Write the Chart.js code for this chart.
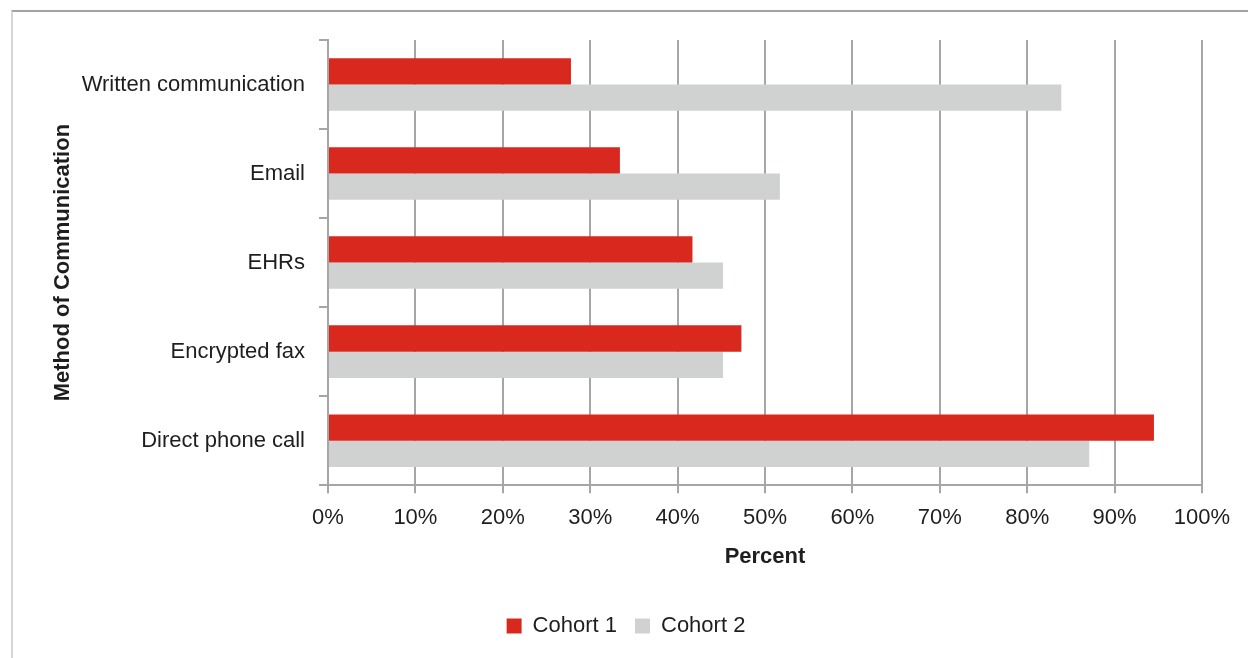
<!DOCTYPE html>
<html>
<head>
<meta charset="utf-8">
<script src="https://cdn.jsdelivr.net/npm/chart.js@4.4.1/dist/chart.umd.min.js"></script>
<style>
  html, body { margin: 0; padding: 0; background: #fff; }
  #wrap { position: relative; width: 1248px; height: 658px; overflow: hidden; }
  #frame {
    position: absolute; left: 11px; top: 10px; width: 1300px; height: 700px;
    border-top: 2px solid #a3a3a3; border-left: 2px solid #d6d6d6;
  }
  canvas { position: absolute; left: 0; top: 0; }
</style>
</head>
<body>
<div id="wrap">
  <div id="frame"></div>
  <canvas id="myChart" width="1248" height="658"></canvas>
</div>
<script>
const methods = ['Written communication', 'Email', 'EHRs', 'Encrypted fax', 'Direct phone call'];
const cohort1 = [27.8, 33.4, 41.7, 47.3, 94.5];
const cohort2 = [83.9, 51.7, 45.2, 45.2, 87.1];
const seriesNames = ['Cohort 1', 'Cohort 2'];
const seriesColors = ['#d9291e', '#d0d2d1'];

const font = "'Liberation Sans', Arial, sans-serif";
const gridColor = '#a6a6a6';
const textColor = '#1e1e1e';

Chart.defaults.font.family = font;
Chart.defaults.color = textColor;

const ctx = document.getElementById('myChart').getContext('2d');
new Chart(ctx, {
    type: 'bar',
    data: {
        labels: methods,
        datasets: [
            { label: seriesNames[0], data: cohort1, backgroundColor: seriesColors[0] },
            { label: seriesNames[1], data: cohort2, backgroundColor: seriesColors[1] }
        ]
    },
    options: {
        indexAxis: 'y',
        responsive: false,
        animation: false,
        categoryPercentage: 0.59,
        barPercentage: 1.0,
        layout: { padding: { left: 50, right: 46, top: 40, bottom: 11 } },
        plugins: {
            tooltip: { enabled: false },
            legend: {
                position: 'bottom',
                labels: {
                    boxWidth: 15,
                    boxHeight: 15,
                    padding: 18,
                    font: { size: 22 },
                    color: textColor
                }
            }
        },
        scales: {
            x: {
                min: 0,
                max: 100,
                ticks: {
                    stepSize: 10,
                    padding: 12,
                    font: { size: 22 },
                    callback: v => v + '%'
                },
                grid: { color: gridColor, lineWidth: 2, tickLength: 8 },
                border: { color: gridColor, width: 2 },
                title: {
                    display: true,
                    text: 'Percent',
                    font: { size: 22, weight: 'bold' },
                    padding: { top: 0, bottom: 27 },
                    color: textColor
                }
            },
            y: {
                ticks: { padding: 14, font: { size: 22 } },
                grid: { drawOnChartArea: false, color: gridColor, lineWidth: 2, tickLength: 9 },
                border: { color: gridColor, width: 2 },
                title: {
                    display: true,
                    text: 'Method of Communication',
                    font: { size: 22, weight: 'bold' },
                    padding: { top: 0, bottom: 8 },
                    color: textColor
                },
                afterFit: scale => { scale.width = 328 - 50; }
            }
        }
    }
});
</script>
</body>
</html>
